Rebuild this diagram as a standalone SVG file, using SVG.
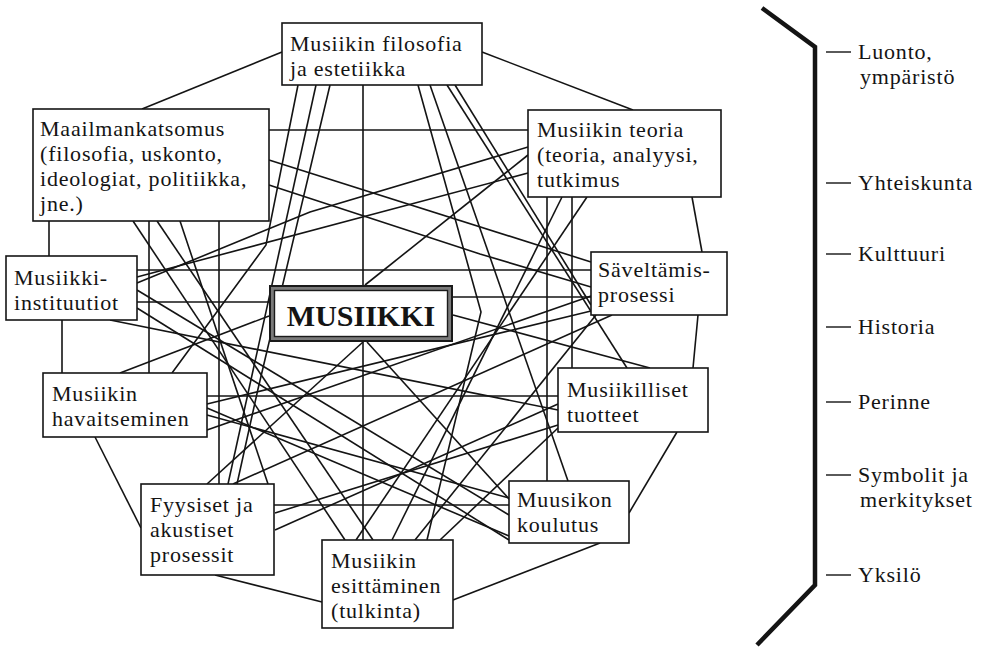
<svg xmlns="http://www.w3.org/2000/svg" width="985" height="648" viewBox="0 0 985 648">
  <style>
    .c { fill: none; stroke: #141414; stroke-width: 1.6; stroke-linejoin: miter; }
    .box { fill: #ffffff; stroke: #141414; stroke-width: 1.6; }
    .t { font-family: "Liberation Serif", "Times New Roman", serif; font-size: 22px; letter-spacing: 0.8px; fill: #141414; }
    .big { font-family: "Liberation Serif", "Times New Roman", serif; font-size: 30px; font-weight: bold; fill: #141414; }
    .dash { stroke: #141414; stroke-width: 1.4; }
  </style>
  <rect width="985" height="648" fill="#ffffff"/>

  <!-- connectors -->
  <g id="connectors" class="c">
    <!-- outer ring -->
    <path d="M282,52 L142,109"/>
    <path d="M482,52 L633,110"/>
    <path d="M692,197 L702,252"/>
    <path d="M698,315 L693,368"/>
    <path d="M677,432 L629,513"/>
    <path d="M600,543 L453,600"/>
    <path d="M322,602 L215,575"/>
    <path d="M141,528 L95,437"/>
    <path d="M62,320 L62,373"/>
    <path d="M49,221 L49,256"/>
    <!-- verticals -->
    <path d="M149,221 V373"/>
    <path d="M219,221 V484"/>
    <path d="M363,85 V285"/>
    <path d="M363,342 V540"/>
    <path d="M547,197 V481"/>
    <path d="M572,197 V368"/>
    <!-- horizontals -->
    <path d="M269,130 H528"/>
    <path d="M137,270 H591"/>
    <path d="M137,302 H269"/>
    <path d="M453,297 H591"/>
    <path d="M207,396 H558"/>
    <path d="M274,505 H509"/>
    <!-- diagonals -->
    <path d="M269,160 L591,262"/>
    <path d="M269,185 L480,254 L591,287"/>
    <path d="M528,147 L310,212 L137,283"/>
    <path d="M528,155 L365,285"/>
    <path d="M528,173 L137,277"/>
    <path d="M298,85 L266,245 L172,373"/>
    <path d="M316,85 L228,484"/>
    <path d="M330,85 L258,389 L237,484"/>
    <path d="M418,85 L481,312 L427,540"/>
    <path d="M430,85 L568,481"/>
    <path d="M447,85 L627,368"/>
    <path d="M455,85 L591,305"/>
    <path d="M133,221 L345,540"/>
    <path d="M157,221 L373,540"/>
    <path d="M180,221 L268,484"/>
    <path d="M587,197 L356,540"/>
    <path d="M562,197 L392,540"/>
    <path d="M110,320 L558,410"/>
    <path d="M137,290 L509,515"/>
    <path d="M137,308 L509,540"/>
    <path d="M120,373 L269,316"/>
    <path d="M207,404 L591,311"/>
    <path d="M207,408 L509,536"/>
    <path d="M207,415 L509,498"/>
    <path d="M207,430 L591,296"/>
    <path d="M367,342 L510,500"/>
    <path d="M363,342 L207,484"/>
    <path d="M453,315 L650,368"/>
    <path d="M275,513 L558,425"/>
    <path d="M275,530 L558,404"/>
    <path d="M233,484 L612,315"/>
    <path d="M596,315 L415,540"/>
    <path d="M558,428 L440,540"/>
  </g>

  <!-- nodes -->
  <g id="filosofia">
    <rect class="box" x="282" y="23" width="200" height="62"/>
    <text class="t" x="290" y="51">Musiikin filosofia</text>
    <text class="t" x="290" y="76">ja estetiikka</text>
  </g>
  <g id="maailmankatsomus">
    <rect class="box" x="33" y="109" width="236" height="112"/>
    <text class="t" x="40" y="136">Maailmankatsomus</text>
    <text class="t" x="40" y="161">(filosofia, uskonto,</text>
    <text class="t" x="40" y="186">ideologiat, politiikka,</text>
    <text class="t" x="40" y="211">jne.)</text>
  </g>
  <g id="teoria">
    <rect class="box" x="528" y="110" width="193" height="87"/>
    <text class="t" x="537" y="137">Musiikin teoria</text>
    <text class="t" x="537" y="162">(teoria, analyysi,</text>
    <text class="t" x="537" y="187">tutkimus</text>
  </g>
  <g id="saveltamis">
    <rect class="box" x="591" y="252" width="136" height="63"/>
    <text class="t" x="598" y="277">Säveltämis-</text>
    <text class="t" x="598" y="302">prosessi</text>
  </g>
  <g id="instituutiot">
    <rect class="box" x="6" y="256" width="131" height="64"/>
    <text class="t" x="14" y="285">Musiikki-</text>
    <text class="t" x="14" y="310">instituutiot</text>
  </g>
  <g id="musiikki">
    <rect x="270" y="286" width="182" height="55" fill="#ffffff" stroke="#1a1a1a" stroke-width="2"/>
    <rect x="272.5" y="288.5" width="177" height="50" fill="none" stroke="#7a7a7a" stroke-width="3"/>
    <rect x="274.5" y="290.5" width="173" height="46" fill="none" stroke="#1a1a1a" stroke-width="1.4"/>
    <text class="big" x="361" y="326" text-anchor="middle">MUSIIKKI</text>
  </g>
  <g id="havaitseminen">
    <rect class="box" x="43" y="373" width="164" height="64"/>
    <text class="t" x="52" y="401">Musiikin</text>
    <text class="t" x="52" y="426">havaitseminen</text>
  </g>
  <g id="tuotteet">
    <rect class="box" x="558" y="368" width="150" height="64"/>
    <text class="t" x="567" y="397">Musiikilliset</text>
    <text class="t" x="567" y="422">tuotteet</text>
  </g>
  <g id="koulutus">
    <rect class="box" x="509" y="481" width="120" height="62"/>
    <text class="t" x="517" y="507">Muusikon</text>
    <text class="t" x="517" y="532">koulutus</text>
  </g>
  <g id="fyysiset">
    <rect class="box" x="141" y="484" width="133" height="91"/>
    <text class="t" x="150" y="512">Fyysiset ja</text>
    <text class="t" x="150" y="537">akustiset</text>
    <text class="t" x="150" y="562">prosessit</text>
  </g>
  <g id="esittaminen">
    <rect class="box" x="322" y="540" width="131" height="88"/>
    <text class="t" x="331" y="568">Musiikin</text>
    <text class="t" x="331" y="593">esittäminen</text>
    <text class="t" x="331" y="618">(tulkinta)</text>
  </g>

  <!-- surrounding context bracket and its labels -->
  <g id="context">
    <path d="M762,8 L815,47 L815,585 L757,645" fill="none" stroke="#141414" stroke-width="4.5"/>
    <line class="dash" x1="826" y1="52" x2="851" y2="52"/>
    <text class="t" x="858" y="59">Luonto,</text>
    <text class="t" x="860" y="84">ympäristö</text>
    <line class="dash" x1="826" y1="183" x2="851" y2="183"/>
    <text class="t" x="858" y="190">Yhteiskunta</text>
    <line class="dash" x1="826" y1="254" x2="851" y2="254"/>
    <text class="t" x="858" y="261">Kulttuuri</text>
    <line class="dash" x1="826" y1="327" x2="851" y2="327"/>
    <text class="t" x="858" y="334">Historia</text>
    <line class="dash" x1="826" y1="402" x2="851" y2="402"/>
    <text class="t" x="858" y="409">Perinne</text>
    <line class="dash" x1="826" y1="475" x2="851" y2="475"/>
    <text class="t" x="858" y="482">Symbolit ja</text>
    <text class="t" x="860" y="507">merkitykset</text>
    <line class="dash" x1="826" y1="575" x2="851" y2="575"/>
    <text class="t" x="858" y="582">Yksilö</text>
  </g>
</svg>
